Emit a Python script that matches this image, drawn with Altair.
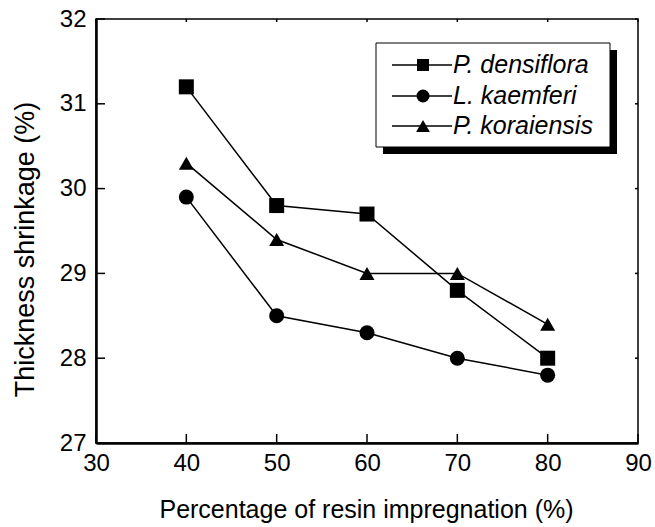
import altair as alt
import pandas as pd

# Thickness shrinkage of three wood species vs. resin impregnation
impregnation = [40, 50, 60, 70, 80]
species = ["P. densiflora", "L. kaemferi", "P. koraiensis"]
densiflora = [31.2, 29.8, 29.7, 28.8, 28.0]
kaemferi = [29.9, 28.5, 28.3, 28.0, 27.8]
koraiensis = [30.3, 29.4, 29.0, 29.0, 28.4]
x_ticks = [30, 40, 50, 60, 70, 80, 90]
y_ticks = [27, 28, 29, 30, 31, 32]
shapes = ["square", "circle", "triangle-up"]

rows = []
for name, vals in zip(species, [densiflora, kaemferi, koraiensis]):
    for x, v in zip(impregnation, vals):
        rows.append({"species": name, "resin": x, "shrinkage": v})
df = pd.DataFrame(rows)

W, H = 542, 424
FONT = "Liberation Sans"
X_TITLE = "Percentage of resin impregnation (%)"
Y_TITLE = "Thickness shrinkage (%)"

x_scale = alt.Scale(domain=[30, 90], nice=False, zero=False)
y_scale = alt.Scale(domain=[27, 32], nice=False, zero=False)

x_axis = alt.Axis(values=x_ticks, ticks=False, grid=False, domainColor="black",
                  domainWidth=2.5, labelPadding=8, labelFlush=False, format="d",
                  titleFontSize=25, titleX=W / 2 - 1, titleY=74,
                  titleBaseline="alphabetic", titleAlign="center")
y_axis = alt.Axis(values=y_ticks, ticks=False, grid=False, domainColor="black",
                  domainWidth=2.5, labelPadding=10, labelFlush=False, format="d",
                  titleFontSize=27, titleX=-63, titleY=H / 2 + 18, titleAngle=270,
                  titleBaseline="alphabetic", titleAlign="center")


def xe(field="resin"):
    return alt.X(f"{field}:Q", scale=x_scale, axis=x_axis, title=X_TITLE)


def ye(field="shrinkage"):
    return alt.Y(f"{field}:Q", scale=y_scale, axis=y_axis, title=Y_TITLE)


base = alt.Chart(df).encode(x=xe(), y=ye(), detail="species:N")
lines = base.mark_line(color="black", strokeWidth=1.5)
points = base.mark_point(filled=True, color="black", opacity=1).encode(
    shape=alt.Shape("species:N", scale=alt.Scale(domain=species, range=shapes), legend=None),
    size=alt.Size("species:N", scale=alt.Scale(domain=species, range=[225, 225, 260]), legend=None),
)

# inward tick marks on all four sides
xt = pd.DataFrame({"resin": x_ticks})
yt = pd.DataFrame({"shrinkage": y_ticks})
bottom_ticks = alt.Chart(xt).mark_rule(color="black", strokeWidth=1.5).encode(
    x=xe(), y=alt.value(H), y2=alt.value(H - 9))
top_ticks = alt.Chart(xt).mark_rule(color="black", strokeWidth=1.5).encode(
    x=xe(), y=alt.value(0), y2=alt.value(3))
left_ticks = alt.Chart(yt).mark_rule(color="black", strokeWidth=1.5).encode(
    y=ye(), x=alt.value(0), x2=alt.value(9))
right_ticks = alt.Chart(yt).mark_rule(color="black", strokeWidth=1.5).encode(
    y=ye(), x=alt.value(W), x2=alt.value(W - 3))

# boxed legend with drop shadow
one = pd.DataFrame({"k": [0]})
LX0, LX1, LY0, LY1 = 280, 514, 24, 128
shadow = alt.Chart(one).mark_rect(color="black").encode(
    x=alt.value(LX0 + 7), x2=alt.value(LX1 + 7), y=alt.value(LY0 + 7), y2=alt.value(LY1 + 7))
box = alt.Chart(one).mark_rect(fill="white", stroke="black", strokeWidth=1).encode(
    x=alt.value(LX0), x2=alt.value(LX1), y=alt.value(LY0), y2=alt.value(LY1))

legend_layers = [shadow, box]
row_y = [46, 77, 107]
legend_sizes = [144, 169, 190]
for name, shp, sz, ry in zip(species, shapes, legend_sizes, row_y):
    legend_layers.append(alt.Chart(one).mark_rule(color="black", strokeWidth=1.5).encode(
        x=alt.value(296), x2=alt.value(356), y=alt.value(ry)))
    legend_layers.append(alt.Chart(one).mark_point(
        shape=shp, filled=True, color="black", opacity=1, size=sz).encode(
        x=alt.value(327), y=alt.value(ry)))
    legend_layers.append(alt.Chart(one).mark_text(
        align="left", baseline="middle", font=FONT, fontSize=25, fontStyle="italic",
        color="black").encode(x=alt.value(357), y=alt.value(ry), text=alt.value(name)))

chart = alt.layer(
    lines, points, bottom_ticks, top_ticks, left_ticks, right_ticks, *legend_layers
).properties(
    width=W, height=H, autosize="none", background="white",
    padding={"left": 96, "top": 19, "right": 17, "bottom": 84},
).configure_view(
    stroke="black", strokeWidth=1.5
).configure_axis(
    labelFont=FONT, labelFontSize=24, labelColor="black",
    titleFont=FONT, titleColor="black", titleFontWeight="normal",
)

chart.save("out.html", embed_options={"renderer": "svg", "actions": False})
